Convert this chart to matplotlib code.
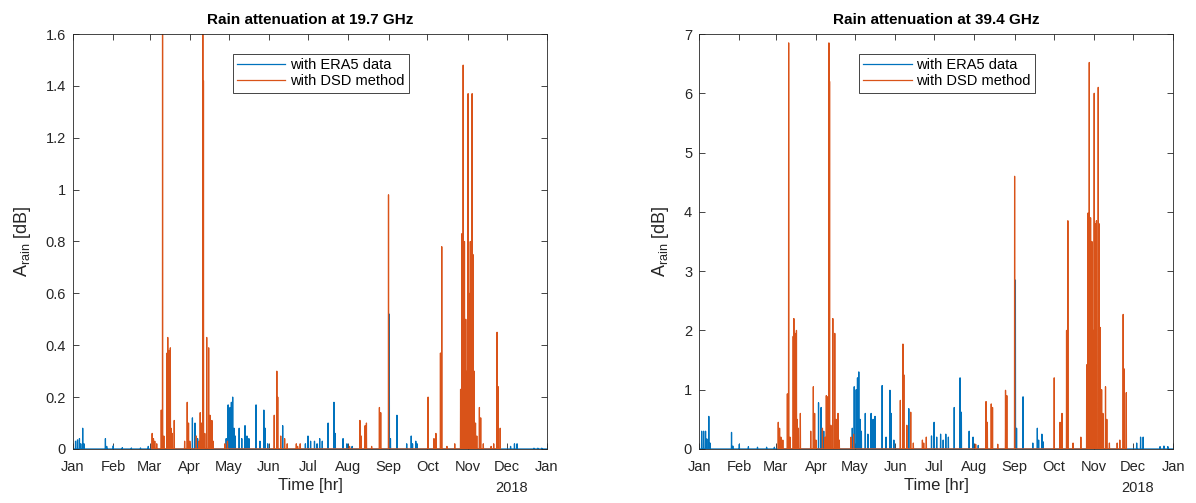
import numpy as np
import pandas as pd
import matplotlib
matplotlib.use('Agg')
from matplotlib import pyplot as plt
import matplotlib.dates as mdates
from matplotlib.ticker import FuncFormatter

plt.rcParams['font.family'] = ['Liberation Sans', 'DejaVu Sans']

year_start = pd.Timestamp('2018-01-01')
year_end = pd.Timestamp('2019-01-01')

# ERA5 events: day of year, attenuation at 19.7 GHz, at 39.4 GHz
era5_day = [2, 3.5, 5, 6, 7.5, 8.5, 25, 26, 31, 38, 45, 52, 58,
            92, 94, 96,
            118, 119.5, 121, 122, 123, 124, 125, 128, 130, 132.5, 134, 135.5,
            141, 144, 147, 148, 150, 161.5,
            179, 181, 183, 186, 188, 190, 192, 196.5, 201, 202, 208, 211, 215,
            243.6, 244.5, 249.5,
            257, 260.5, 261.5, 264, 265,
            337, 340, 342, 355, 358, 361]
era5_19 = [0.03, 0.035, 0.04, 0.02, 0.08, 0.02, 0.04, 0.01, 0.012, 0.005, 0.004, 0.004, 0.01,
           0.12, 0.1, 0.04,
           0.04, 0.17, 0.16, 0.18, 0.2, 0.08, 0.05, 0.08, 0.04, 0.09, 0.05, 0.04,
           0.17, 0.03, 0.15, 0.08, 0.02, 0.09,
           0.02, 0.05, 0.03, 0.03, 0.02, 0.04, 0.03, 0.1, 0.18, 0.06, 0.04, 0.02, 0.01,
           0.52, 0.04, 0.13,
           0.02, 0.05, 0.02, 0.03, 0.02,
           0.01, 0.02, 0.02, 0.003, 0.003, 0.003]
era5_39 = [0.3, 0.3, 0.3, 0.17, 0.55, 0.1, 0.28, 0.05, 0.08, 0.04, 0.03, 0.03, 0.03,
           0.78, 0.7, 0.3,
           0.35, 1.05, 1.0, 1.2, 1.3, 0.5, 0.3, 0.6, 0.25, 0.6, 0.5, 0.55,
           1.07, 0.2, 0.99, 0.6, 0.15, 0.68,
           0.22, 0.45, 0.2, 0.25, 0.15, 0.25, 0.2, 0.7, 1.2, 0.62, 0.3, 0.2, 0.06,
           2.85, 0.35, 0.88,
           0.1, 0.35, 0.15, 0.25, 0.12,
           0.1, 0.2, 0.2, 0.04, 0.05, 0.04]

# DSD method events: day of year, attenuation at 19.7 GHz, at 39.4 GHz
dsd_day = [61, 62, 63, 64.5, 68, 69, 70, 72.5, 73, 74, 75, 75.5, 76.5, 78,
           86, 88, 89, 90, 95, 97, 98, 99, 100, 100.5, 101.5, 103, 104.5, 105.5, 107, 108,
           117, 119, 155, 157, 157.7, 160, 163, 165, 172, 173, 175,
           213, 221, 222, 225, 226, 230, 236, 237, 243,
           273.5, 278, 279.5, 283, 284, 288, 294,
           298.5, 299.5, 300.5, 301.5, 302.5, 303.5, 304.3, 305, 306, 307.4, 308, 309, 310, 311,
           313, 314, 316, 322, 324, 326.6, 327.5, 329]
dsd_19 = [0.06, 0.04, 0.03, 0.02, 0.15, 1.65, 0.05, 0.37, 0.43, 0.38, 0.39, 0.08, 0.06, 0.11,
          0.03, 0.18, 0.1, 0.03, 0.05, 0.03, 0.14, 0.1, 1.65, 1.42, 0.06, 0.43, 0.39, 0.13, 0.11, 0.03,
          0.02, 0.03, 0.13, 0.3, 0.2, 0.05, 0.04, 0.02, 0.02, 0.01, 0.02,
          0.01, 0.11, 0.05, 0.09, 0.1, 0.01, 0.16, 0.14, 0.98,
          0.2, 0.04, 0.06, 0.37, 0.78, 0.01, 0.02,
          0.23, 0.83, 1.48, 0.8, 0.5, 0.3, 1.37, 0.6, 0.8, 1.37, 0.75, 0.3, 0.1, 0.05,
          0.16, 0.12, 0.02, 0.01, 0.02, 0.45, 0.24, 0.08]
dsd_39 = [0.45, 0.35, 0.2, 0.15, 0.93, 6.85, 0.2, 1.9, 2.2, 1.95, 2.0, 0.5, 0.35, 0.6,
          0.3, 1.05, 0.6, 0.15, 0.35, 0.2, 0.9, 0.88, 6.85, 6.2, 0.4, 2.2, 1.95, 0.5, 0.6, 0.15,
          0.2, 0.25, 0.82, 1.77, 1.25, 0.4, 0.62, 0.1, 0.15, 0.1, 0.2,
          0.08, 0.8, 0.45, 0.76, 0.7, 0.08, 0.99, 0.9, 4.6,
          1.2, 0.45, 0.6, 2.0, 3.85, 0.1, 0.2,
          1.42, 3.98, 6.52, 3.9, 3.5, 2.0, 6.0, 3.8, 3.85, 6.1, 3.8, 2.05, 1.0, 0.6,
          1.05, 0.5, 0.1, 0.1, 0.15, 2.27, 1.35, 0.95]

blue = '#0072BD'
orange = '#D95319'


def spikes(days, values, full_year=False):
    # each event drawn as a narrow peak returning to zero
    x, y = [], []
    if full_year:
        x.append(0.0)
        y.append(0.0)
    for d, v in zip(days, values):
        x += [d - 0.12, d, d + 0.12]
        y += [0.0, v, 0.0]
    if full_year:
        x.append(365.0)
        y.append(0.0)
    t = year_start + pd.to_timedelta(np.array(x), unit='D')
    return t, np.array(y)


fig = plt.figure(figsize=(11.96, 5.03), dpi=100)
ax1 = fig.add_axes([0.061, 0.1074, 0.3963, 0.825])
ax2 = fig.add_axes([0.5845, 0.1074, 0.3963, 0.825])

panels = [
    (ax1, era5_19, dsd_19, 1.6, np.arange(0, 1.61, 0.2), 'Rain attenuation at 19.7 GHz'),
    (ax2, era5_39, dsd_39, 7, np.arange(0, 8, 1), 'Rain attenuation at 39.4 GHz'),
]

for ax, era5, dsd, ymax, yticks, title in panels:
    t, y = spikes(era5_day, era5, full_year=True)
    ax.plot(t, y, color=blue, lw=0.9, label='with ERA5 data')
    t, y = spikes(dsd_day, dsd)
    ax.plot(t, y, color=orange, lw=0.9, label='with DSD method')

    ax.set_xlim(year_start, year_end)
    ax.set_ylim(0, ymax)
    ax.set_yticks(yticks)
    ax.yaxis.set_major_formatter(FuncFormatter(lambda v, p: '%g' % round(v, 2)))
    ax.xaxis.set_major_locator(mdates.MonthLocator())
    ax.xaxis.set_major_formatter(mdates.DateFormatter('%b'))
    ax.tick_params(direction='in', top=True, right=True, labelsize=10.5,
                   colors='#262626', length=4, width=0.6)
    ax.tick_params(axis='x', pad=8)
    ax.tick_params(axis='y', pad=5)
    for s in ax.spines.values():
        s.set_color('#262626')
        s.set_linewidth(0.6)

    ax.set_title(title, fontsize=11, fontweight='bold', pad=7)
    ax.set_xlabel('Time [hr]', fontsize=12, color='#262626', labelpad=3)
    ax.set_ylabel(r'A$_{\mathregular{rain}}$ [dB]', fontsize=13, color='#262626', labelpad=9)
    ax.text(0.926, -0.094, '2018', transform=ax.transAxes, ha='center', va='center',
            fontsize=10.5, color='#262626')

    leg = ax.legend(loc='upper center', bbox_to_anchor=(0.523, 0.952), fontsize=10.5,
                    fancybox=False, framealpha=1, edgecolor='#262626',
                    handlelength=3.3, handletextpad=0.3, borderpad=0.3,
                    labelspacing=0.15, borderaxespad=0)
    leg.get_frame().set_linewidth(0.6)

fig.savefig('out.png', dpi=100)
